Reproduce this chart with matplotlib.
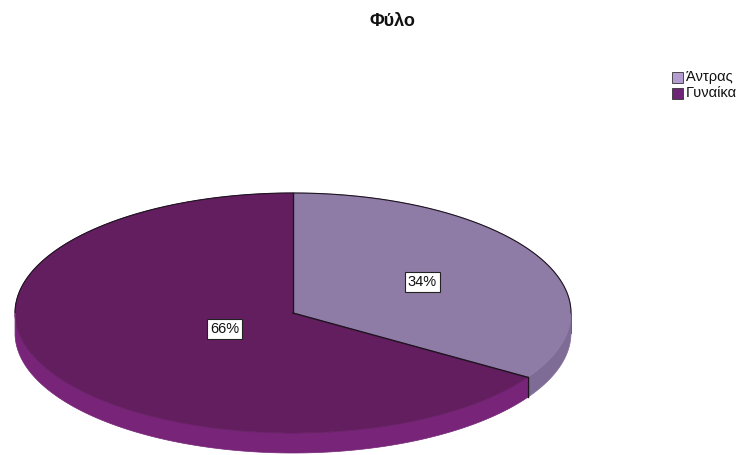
import numpy as np
import matplotlib
matplotlib.use("Agg")
import matplotlib.pyplot as plt
from matplotlib.patches import Polygon, Rectangle

# ── Data ──────────────────────────────────────────────────────────────────────
labels = ["Άντρας", "Γυναίκα"]
values = [34, 66]
title = "Φύλο"

top_colors = ["#8f7ca6", "#631e60"]
side_colors = ["#7f6c96", "#772479"]
legend_colors = ["#b49cd0", "#6e2477"]
label_r = [0.53, 0.28]

FONT = ["Liberation Sans", "DejaVu Sans"]
EDGE = "#1e1420"

# ── Geometry (pixel space) ───────────────────────────────────────────────────
W, H = 742, 455
cx, cy, rx, ry, depth = 293, 313, 278, 120, 20


def ell(t, dy=0.0):
    return cx + rx * np.cos(t), cy - ry * np.sin(t) + dy


fig = plt.figure(figsize=(W / 100, H / 100), dpi=100)
ax = fig.add_axes([0, 0, 1, 1])
ax.set_xlim(0, W)
ax.set_ylim(H, 0)
ax.axis("off")

total = float(sum(values))
start = np.pi / 2
slices = []
for v in values:
    span = 2 * np.pi * v / total
    slices.append((start - span, start))
    start -= span

# side walls (front half only)
for (a0, a1), col in zip(slices, side_colors):
    t = np.linspace(a0, a1, 400)
    t = t[np.sin(t) <= 0]
    if len(t) < 2:
        continue
    xt, yt = ell(t)
    xb, yb = ell(t[::-1], depth)
    pts = np.column_stack([np.concatenate([xt, xb]), np.concatenate([yt, yb])])
    ax.add_patch(Polygon(pts, closed=True, facecolor=col, edgecolor=col, linewidth=0.5, zorder=1))

# top face
for (a0, a1), col in zip(slices, top_colors):
    t = np.linspace(a0, a1, 400)
    xs, ys = ell(t)
    pts = np.column_stack([np.concatenate([[cx], xs]), np.concatenate([[cy], ys])])
    ax.add_patch(Polygon(pts, closed=True, facecolor=col, edgecolor=col, linewidth=0.5, zorder=2))

# back rim outline and slice dividers
tb = np.linspace(0, np.pi, 400)
ax.plot(*ell(tb), color=EDGE, linewidth=0.8, zorder=3)
for a0, _ in slices:
    ex, ey = ell(a0)
    ax.plot([cx, ex], [cy, ey], color=EDGE, linewidth=1.0, zorder=3)
    if np.sin(a0) < 0:
        ax.plot([ex, ex], [ey, ey + depth], color=EDGE, linewidth=1.0, zorder=3)
for t_end in (0.0, np.pi):
    ex, ey = ell(t_end)
    ax.plot([ex, ex], [ey, ey + depth], color="#5a4a60", linewidth=0.6, zorder=3)

# percentage labels
for (a0, a1), v, r in zip(slices, values, label_r):
    mid = 0.5 * (a0 + a1)
    x = cx + r * rx * np.cos(mid)
    y = cy - r * ry * np.sin(mid)
    ax.text(x, y, f"{v / total * 100:.0f}%", ha="center", va="center", fontsize=10.5,
            family=FONT, color="#111111", zorder=5,
            bbox=dict(boxstyle="square,pad=0.2", facecolor="white", edgecolor="#222222", linewidth=0.8))

ax.text(392, 22, title, ha="center", va="center", fontsize=13, fontweight="bold",
        family=FONT, color="#111111")

# legend
for i, (lab, col) in enumerate(zip(labels, legend_colors)):
    y = 77 + i * 16
    ax.add_patch(Rectangle((672, y - 5.5), 11, 11, facecolor=col, edgecolor="#333333", linewidth=0.6))
    ax.text(686, y, lab, ha="left", va="center", fontsize=10.5, family=FONT, color="#111111")

fig.savefig("out.png", dpi=100, facecolor="white")
